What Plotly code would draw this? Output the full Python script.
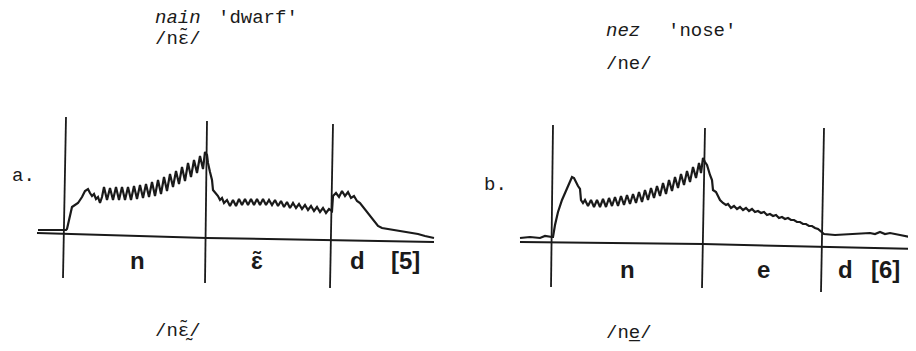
"""Nasal airflow traces: French nain /nɛ̃/ vs nez /ne/."""

import plotly.graph_objects as go

# --- panel a: nain 'dwarf' (time in ms from nasal onset, flow in arbitrary units)
time_a = [
    -28, 0, 1, 4, 6, 12, 16, 19, 22, 24, 26, 28, 30, 32, 34, 36,
    38, 41, 44, 47, 50, 53, 56, 59, 62, 65, 68, 71, 74, 77, 80, 83,
    86, 89, 92, 95, 98, 101, 104, 107, 110, 113, 116, 119, 122, 125,
    128, 131, 134, 137, 139, 141, 142, 144, 146, 147, 150, 152, 154,
    156, 158,
    161, 164, 167, 170, 173, 176, 179, 182, 185, 188, 191, 194, 197,
    200, 203, 206, 209, 212, 215, 218, 221, 224, 227, 230, 233, 236,
    239, 242, 245, 248, 251, 254, 257, 260, 263, 266,
    267, 270, 273, 276, 279, 282, 285, 288, 291, 294, 297, 300, 303,
    306, 309, 312, 316, 322, 329, 336, 344, 352, 359, 368,
]
flow_a = [
    10, 10, 11, 25, 33, 37, 43, 49, 51, 47, 44, 46, 41, 43, 37, 43,
    53, 40, 52, 40, 53, 40, 53, 40, 53, 40, 54, 41, 55, 42, 56, 43,
    58, 44, 60, 46, 63, 49, 66, 53, 69, 56, 73, 59, 77, 63,
    80, 67, 84, 71, 88, 85, 77, 68, 60, 50, 47, 44, 40,
    42, 37,
    40, 34, 40, 34, 41, 35, 41, 35, 41, 35, 41, 35, 41,
    35, 40, 35, 40, 34, 39, 33, 38, 32, 37, 32, 36, 31,
    35, 30, 34, 29, 33, 28, 32, 27, 31, 29,
    44, 47, 43, 49, 44, 48, 42, 44, 39, 37, 33, 29, 25,
    22, 18, 14, 12, 11, 10, 9, 8, 6, 4, 2,
]
baseline_a_t = [-29, 141, 368]
baseline_a_f = [7, 2, -2]
bounds_a_top_t = [0, 141, 267]
bounds_a_top_f = [123, 119, 116]
bounds_a_bot_t = [-3, 139, 264]
bounds_a_bot_f = [-38, -43, -48]
segments_a = ["n", "ɛ̃", "d", "[5]"]
segments_a_t = [71, 191, 291, 339]

# --- panel b: nez 'nose'
time_b = [
    -33, -23, -13, -8, -1, 0, 2, 5, 9, 13, 17, 19, 21, 23, 25, 27, 28, 30,
    32, 35, 38, 41, 44, 47, 50, 53, 56, 59, 62, 65, 68, 71, 74, 77,
    80, 83, 86, 89, 92, 95, 98, 101, 104, 107, 110, 113, 116, 119,
    122, 125, 128, 131, 134, 137, 140, 143, 146, 148, 150,
    152, 154, 157, 159, 160, 163, 165, 167, 170, 173,
    175, 178, 181, 184, 187, 190, 193, 196, 199, 202, 205, 208, 211,
    214, 217, 220, 223, 226, 229, 232, 235, 238, 241, 244, 247, 250,
    253, 256, 259, 262, 265, 269,
    271, 282, 297, 307, 317, 322, 327, 332, 337, 347, 357, 363,
]
flow_b = [
    2, 3, 2, 4, 3, 3, 15, 28, 40, 50, 59, 63, 62, 57, 54, 51, 40, 37,
    40, 34, 40, 33, 40, 33, 41, 33, 42, 34, 43, 34, 44, 35, 45, 36,
    46, 37, 48, 38, 50, 40, 52, 42, 54, 44, 57, 46, 60, 49,
    63, 52, 66, 55, 69, 58, 73, 62, 77, 67, 82,
    78, 75, 65, 60, 50, 48, 44, 40, 37, 35,
    36, 32, 34, 31, 33, 30, 32, 29, 31, 28, 29, 27, 28,
    25, 26, 24, 25, 22, 23, 21, 22, 20, 20, 18, 18, 16,
    16, 14, 14, 12, 11, 7,
    6, 5, 6, 6, 7, 6, 8, 6, 7, 5, 3, 3,
]
baseline_b_t = [-33, 150, 363]
baseline_b_f = [-2, -4, -9]
bounds_b_top_t = [0, 152, 271]
bounds_b_top_f = [115, 112, 112]
bounds_b_bot_t = [-2, 149, 268]
bounds_b_bot_f = [-47, -48, -52]
segments_b = ["n", "e", "d", "[6]"]
segments_b_t = [74, 210, 292, 332]

INK = "#1a1a1a"
MONO = "Liberation Mono, Courier New, monospace"
SANS = "Liberation Sans, Arial, sans-serif"

fig = go.Figure()


def add_panel(xaxis, t, f, base_t, base_f, top_t, top_f, bot_t, bot_f):
    fig.add_trace(go.Scatter(
        x=base_t, y=base_f, xaxis=xaxis, mode="lines",
        line={"color": INK, "width": 2}, hoverinfo="skip",
    ))
    for i in range(len(top_t)):
        fig.add_trace(go.Scatter(
            x=[top_t[i], bot_t[i]], y=[top_f[i], bot_f[i]], xaxis=xaxis,
            mode="lines", line={"color": INK, "width": 1.8},
            hoverinfo="skip",
        ))
    fig.add_trace(go.Scatter(
        x=t, y=f, xaxis=xaxis, mode="lines",
        line={"color": INK, "width": 2.2}, hoverinfo="skip",
    ))


add_panel("x", time_a, flow_a, baseline_a_t, baseline_a_f,
          bounds_a_top_t, bounds_a_top_f, bounds_a_bot_t, bounds_a_bot_f)
add_panel("x2", time_b, flow_b, baseline_b_t, baseline_b_f,
          bounds_b_top_t, bounds_b_top_f, bounds_b_bot_t, bounds_b_bot_f)

annotations = []


def label(text, xref, x, y, size=19, family=MONO, anchor="left"):
    annotations.append({
        "text": text, "xref": xref, "yref": "y", "x": x, "y": y,
        "xanchor": anchor, "yanchor": "middle", "showarrow": False,
        "font": {"family": family, "size": size, "color": INK},
    })


# headings
label("<i>nain</i>", "x", 87, 222)
label("'dwarf'", "x", 150, 222)
label("/nɛ̃/", "x", 87, 202)
label("<i>nez</i>", "x2", 51, 209)
label("'nose'", "x2", 113, 209)
label("/ne/", "x2", 51, 176)
# panel letters
label("a.", "x", -56, 64)
label("b.", "x2", -71, 55)
# segment labels
for s, t in zip(segments_a, segments_a_t):
    label("<b>%s</b>" % s, "x", t, -20, size=24, family=SANS, anchor="center")
for s, t in zip(segments_b, segments_b_t):
    label("<b>%s</b>" % s, "x2", t, -29, size=24, family=SANS, anchor="center")
# phonological forms below
label("/nɛ̰̃/", "x", 87, -90)
label("/ne̲/", "x2", 51, -93)

# the page body adds an 8 px margin, so the ranges are offset to compensate
fig.update_layout(
    width=916,
    height=351,
    margin={"l": 0, "r": 0, "t": 0, "b": 0},
    paper_bgcolor="white",
    plot_bgcolor="white",
    showlegend=False,
    annotations=annotations,
    xaxis={"domain": [0, 0.5], "range": [-58, 400], "visible": False},
    xaxis2={"domain": [0.5, 1], "range": [-87, 371], "visible": False,
            "anchor": "y"},
    yaxis={"range": [-119, 232], "visible": False},
)

fig.write_html("out.html")
